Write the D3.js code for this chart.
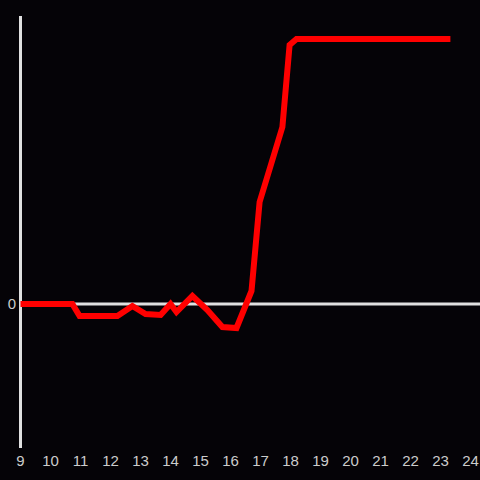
<!DOCTYPE html>
<html><head><meta charset="utf-8">
<script src="https://cdn.jsdelivr.net/npm/d3@7"></script>
<style>html,body{margin:0;padding:0;background:#050307;}svg{display:block;}</style>
</head><body>
<script>
const hours = [9, 10.73, 10.97, 12.23, 12.73, 13.17, 13.67, 14.0, 14.2, 14.73, 15.23, 15.73, 16.2, 16.7, 16.97, 17.73, 17.97, 18.2, 23.33];
const values = [0, 0, -12, -12, -2, -10, -11, 0, -8, 8, -6, -23, -24, 13, 102, 177, 259, 265, 265];
const xTicks = [9,10,11,12,13,14,15,16,17,18,19,20,21,22,23,24];
const yTicks = [0];

const W = 480, H = 480;
const svg = d3.select("body").append("svg").attr("width", W).attr("height", H);
svg.append("rect").attr("width", W).attr("height", H).attr("fill", "#050307");

const x = d3.scaleLinear().domain([9, 24]).range([20.5, 470.5]);
const y = d3.scaleLinear().domain([-144, 288]).range([448, 16]);

// y axis line
svg.append("line").attr("x1", 20.5).attr("x2", 20.5).attr("y1", 16).attr("y2", 448)
  .attr("stroke", "#e0e0e0").attr("stroke-width", 3);
// zero line
svg.append("line").attr("x1", 20).attr("x2", 480).attr("y1", y(0)).attr("y2", y(0))
  .attr("stroke", "#e0e0e0").attr("stroke-width", 3);

svg.selectAll(".yt").data(yTicks).enter().append("text")
  .attr("x", 16).attr("y", d => y(d)).attr("dy", "0.35em")
  .attr("text-anchor", "end").attr("fill", "#cccccc")
  .attr("font-family", "Liberation Sans, Arial, sans-serif").attr("font-size", 15)
  .text(d => d);

svg.selectAll(".xt").data(xTicks).enter().append("text")
  .attr("x", d => x(d)).attr("y", 466)
  .attr("text-anchor", "middle").attr("fill", "#cccccc")
  .attr("font-family", "Liberation Sans, Arial, sans-serif").attr("font-size", 15)
  .text(d => d);

const data = hours.map((h, i) => ({h, v: values[i]}));
const line = d3.line().x(d => x(d.h)).y(d => y(d.v));
svg.append("path").datum(data).attr("d", line)
  .attr("fill", "none").attr("stroke", "#ff0000").attr("stroke-width", 6)
  .attr("stroke-linejoin", "miter");
</script>
</body></html>
